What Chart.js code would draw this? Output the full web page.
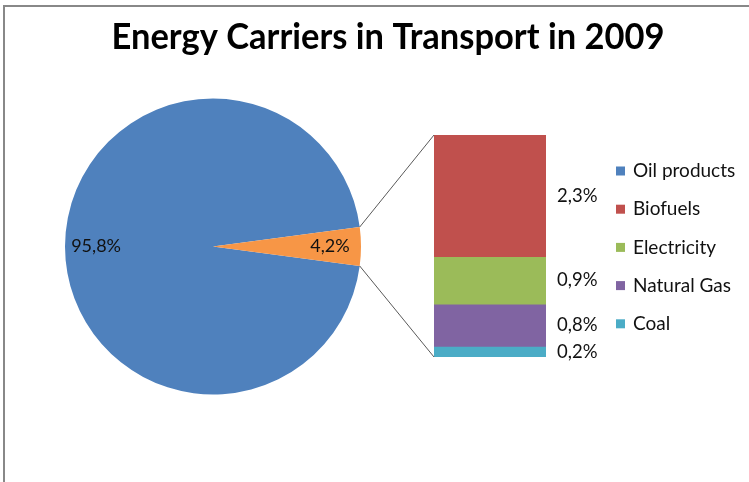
<!DOCTYPE html>
<html>
<head>
<meta charset="utf-8">
<script src="https://cdn.jsdelivr.net/npm/chart.js@4.4.1/dist/chart.umd.min.js"></script>
<style>
    body { margin: 0; background: #fff; overflow: hidden; }
    #wrap { position: relative; width: 749px; height: 482px; overflow: hidden; }
    #frame { position: absolute; left: 3px; top: 5px; width: 900px; height: 700px;
             border-left: 2px solid #888; border-top: 2px solid #888; }
    canvas { position: absolute; left: 0; top: 0; }
</style>
</head>
<body>
<div id="wrap">
    <div id="frame"></div>
    <canvas id="pie" width="749" height="482"></canvas>
    <canvas id="bar" width="749" height="482"></canvas>
</div>
<script>
// ===== Data =====
const chartTitle = 'Energy Carriers in Transport in 2009';

// main pie: oil products vs everything else (split out in the bar)
const pieLabels = ['Oil products', 'Other'];
const pieValues = [95.8, 4.2];
const pieColors = ['#4F81BD', '#F79646'];

// breakdown of the "Other" slice, top of the bar first
const barLabels = ['Biofuels', 'Electricity', 'Natural Gas', 'Coal'];
const barValues = [2.3, 0.9, 0.8, 0.2];
const barColors = ['#C0504D', '#9BBB59', '#8064A2', '#4BACC6'];

const legendLabels = ['Oil products', 'Biofuels', 'Electricity', 'Natural Gas', 'Coal'];
const legendColors = ['#4F81BD', '#C0504D', '#9BBB59', '#8064A2', '#4BACC6'];

const FONT = 'Lato, "Open Sans", sans-serif';

function fmt(v) {
    return v.toFixed(1).replace('.', ',') + '%';
}

// ===== Pie chart =====
const pieTotal = pieValues.reduce((a, b) => a + b, 0);
const otherShare = pieValues[1] / pieTotal * 360;

const pieLabelPlugin = {
    id: 'pieLabels',
    afterDatasetsDraw(chart) {
        const ctx = chart.ctx;
        const arcs = chart.getDatasetMeta(0).data;
        ctx.save();
        ctx.font = '18px ' + FONT;
        ctx.fillStyle = '#111';
        ctx.textAlign = 'center';
        ctx.textBaseline = 'middle';
        arcs.forEach((arc, i) => {
            const mid = (arc.startAngle + arc.endAngle) / 2;
            const r = arc.outerRadius * 0.79;
            ctx.fillText(fmt(pieValues[i]), arc.x + Math.cos(mid) * r, arc.y + Math.sin(mid) * r);
        });

        // title
        ctx.font = 'bold 36px ' + FONT;
        ctx.fillStyle = '#000';
        ctx.textBaseline = 'alphabetic';
        ctx.fillText(chartTitle, 388, 49, 553);
        ctx.restore();
    }
};

window.pieChart = new Chart(document.getElementById('pie'), {
    type: 'pie',
    data: {
        labels: pieLabels,
        datasets: [{
            data: pieValues,
            backgroundColor: pieColors,
            borderWidth: 0
        }]
    },
    options: {
        responsive: false,
        animation: false,
        devicePixelRatio: 1,
        // Oil first, then the small slice centred on 3 o'clock
        rotation: 90 - (360 - otherShare) - otherShare / 2 + 360,
        layout: { padding: { left: 65, right: 388, top: 98, bottom: 87 } },
        plugins: { legend: { display: false }, tooltip: { enabled: false } }
    },
    plugins: [pieLabelPlugin]
});

// ===== Bar of pie =====
const barTotal = barValues.reduce((a, b) => a + b, 0);

const barExtrasPlugin = {
    id: 'barExtras',
    afterDatasetsDraw(chart) {
        const ctx = chart.ctx;
        ctx.save();

        // segment labels
        ctx.font = '18.5px ' + FONT;
        ctx.fillStyle = '#111';
        ctx.textAlign = 'left';
        ctx.textBaseline = 'middle';
        chart.data.datasets.forEach((ds, i) => {
            const el = chart.getDatasetMeta(i).data[0];
            ctx.fillText(fmt(ds.data[0]), el.x + el.width / 2 + 11, (el.y + el.base) / 2);
        });

        // connector lines from the small pie slice to the bar
        const slice = window.pieChart.getDatasetMeta(0).data[1];
        const topEl = chart.getDatasetMeta(0).data[0];
        const botEl = chart.getDatasetMeta(chart.data.datasets.length - 1).data[0];
        const left = topEl.x - topEl.width / 2;
        ctx.strokeStyle = '#595959';
        ctx.lineWidth = 1;
        ctx.beginPath();
        ctx.moveTo(slice.x + Math.cos(slice.startAngle) * slice.outerRadius,
                   slice.y + Math.sin(slice.startAngle) * slice.outerRadius);
        ctx.lineTo(left, Math.min(topEl.y, topEl.base));
        ctx.moveTo(slice.x + Math.cos(slice.endAngle) * slice.outerRadius,
                   slice.y + Math.sin(slice.endAngle) * slice.outerRadius);
        ctx.lineTo(left, Math.max(botEl.y, botEl.base));
        ctx.stroke();

        // legend
        ctx.font = '19px ' + FONT;
        legendLabels.forEach((lbl, i) => {
            const y = 171 + i * 38.2;
            ctx.fillStyle = legendColors[i];
            ctx.fillRect(616, y - 4.5, 9, 9);
            ctx.fillStyle = '#111';
            ctx.fillText(lbl, 633, y);
        });
        ctx.restore();
    }
};

new Chart(document.getElementById('bar'), {
    type: 'bar',
    data: {
        labels: ['Other'],
        datasets: barLabels.map((lbl, i) => ({
            label: lbl,
            data: [barValues[i]],
            backgroundColor: barColors[i],
            borderWidth: 0,
            categoryPercentage: 1,
            barPercentage: 1
        }))
    },
    options: {
        responsive: false,
        animation: false,
        devicePixelRatio: 1,
        layout: { padding: { left: 434, right: 203, top: 135, bottom: 125 } },
        scales: {
            x: { display: false, stacked: true },
            y: { display: false, stacked: true, reverse: true, min: 0, max: barTotal }
        },
        plugins: { legend: { display: false }, tooltip: { enabled: false } }
    },
    plugins: [barExtrasPlugin]
});
</script>
</body>
</html>
